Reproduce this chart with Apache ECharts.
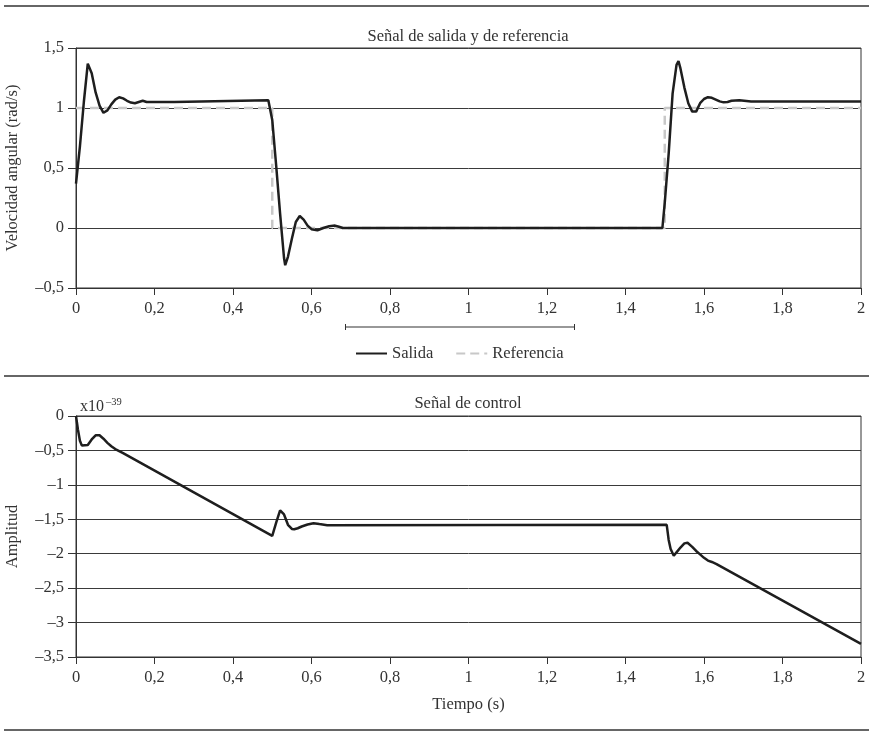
<!DOCTYPE html>
<html>
<head>
<meta charset="utf-8">
<script src="https://cdn.jsdelivr.net/npm/echarts@6/dist/echarts.min.js"></script>
<style>
  html, body { margin: 0; padding: 0; background: #fff; }
  #chart { width: 873px; height: 731px; }
</style>
</head>
<body>
<div id="chart"></div>
<script>
// Señal de salida (velocidad angular, rad/s)
let tiempoSalida = [0, 0.01, 0.02, 0.03, 0.04, 0.05, 0.06, 0.07, 0.08, 0.09, 0.10, 0.11, 0.12, 0.13, 0.14, 0.15, 0.16, 0.17, 0.18, 0.25, 0.49,
    0.50, 0.51, 0.52, 0.53, 0.533, 0.54, 0.55, 0.56, 0.57, 0.58, 0.59, 0.60, 0.615, 0.63, 0.645, 0.66, 0.67, 0.68,
    1.494, 1.50, 1.51, 1.52, 1.53, 1.535, 1.54, 1.55, 1.56, 1.57, 1.575, 1.58, 1.59, 1.60, 1.61, 1.62, 1.63, 1.64, 1.65, 1.66, 1.67, 1.69, 1.72, 2.0];
let salida = [0.37, 0.68, 1.05, 1.37, 1.29, 1.13, 1.02, 0.96, 0.98, 1.03, 1.07, 1.09, 1.08, 1.06, 1.045, 1.04, 1.05, 1.06, 1.05, 1.05, 1.065,
    0.90, 0.52, 0.12, -0.25, -0.31, -0.24, -0.09, 0.05, 0.10, 0.07, 0.02, -0.01, -0.02, 0.0, 0.015, 0.02, 0.01, 0,
    0, 0.21, 0.62, 1.12, 1.36, 1.39, 1.33, 1.17, 1.04, 0.97, 0.96, 0.97, 1.04, 1.075, 1.09, 1.085, 1.07, 1.055, 1.047, 1.05, 1.06, 1.065, 1.055, 1.055];

// Señal de referencia
let tiempoRef = [0, 0.5, 0.5, 1.5, 1.5, 2];
let referencia = [1, 1, 0, 0, 1, 1];

// Señal de control (x10^-39)
let tiempoControl = [0, 0.005, 0.01, 0.015, 0.02, 0.03, 0.04, 0.05, 0.055, 0.06, 0.07, 0.08, 0.09, 0.10, 0.11, 0.12,
    0.50, 0.51, 0.52, 0.522, 0.53, 0.54, 0.55, 0.556, 0.565, 0.575, 0.59, 0.605, 0.62, 0.64,
    1.505, 1.51, 1.515, 1.523, 1.53, 1.54, 1.55, 1.558, 1.57, 1.58, 1.59, 1.60, 1.61, 1.62, 1.632, 2.0];
let control = [0, -0.2, -0.36, -0.43, -0.445, -0.42, -0.34, -0.28, -0.27, -0.28, -0.33, -0.39, -0.44, -0.48, -0.51, -0.54,
    -1.74, -1.55, -1.37, -1.355, -1.43, -1.58, -1.64, -1.645, -1.63, -1.605, -1.575, -1.557, -1.57, -1.585,
    -1.58, -1.80, -1.93, -2.03, -1.98, -1.91, -1.85, -1.84, -1.90, -1.96, -2.01, -2.06, -2.10, -2.12, -2.15, -3.31];

let fuente = 'Liberation Serif';
let tam = 16.5;
let gris = '#333';

function par(ts, vs) {
    return ts.map((t, i) => [t, vs[i]]);
}
// coma decimal y raya para negativos
function fmt(v) {
    return String(Math.round(v * 100) / 100).replace('.', ',').replace('-', '\u2013');
}

function ejeX(idx, nombre) {
    return {
        type: 'value', gridIndex: idx, min: 0, max: 2, interval: 0.2,
        name: nombre, nameLocation: 'middle', nameGap: 39,
        nameTextStyle: { fontFamily: fuente, fontSize: tam, color: gris },
        axisLine: { show: true, onZero: false, lineStyle: { color: gris, width: 1 } },
        axisTick: { show: true, length: 7, lineStyle: { color: gris } },
        axisLabel: { formatter: fmt, fontFamily: fuente, fontSize: tam, color: gris, margin: 12 },
        splitLine: { show: false }
    };
}
function ejeY(idx, min, max, nombre) {
    return {
        type: 'value', gridIndex: idx, min: min, max: max, interval: 0.5,
        name: nombre, nameLocation: 'middle', nameGap: 55,
        nameTextStyle: { fontFamily: fuente, fontSize: tam, color: gris },
        axisLine: { show: true, onZero: false, lineStyle: { color: gris, width: 1 } },
        axisTick: { show: true, length: 8, lineStyle: { color: gris } },
        axisLabel: { formatter: fmt, fontFamily: fuente, fontSize: tam, color: gris, margin: 12 },
        splitLine: { show: true, lineStyle: { color: '#3a3a3a', width: 1 } }
    };
}

let regla = (y) => ({ type: 'line', shape: { x1: 4, y1: y, x2: 869, y2: y }, style: { stroke: gris, lineWidth: 1.5 } });

let option = {
    animation: false,
    backgroundColor: '#fff',
    title: [
        { text: 'Señal de salida y de referencia', left: 468, top: 28, textAlign: 'center', padding: 0,
          textStyle: { fontFamily: fuente, fontSize: tam, fontWeight: 'normal', color: gris } },
        { text: 'Señal de control', left: 468, top: 395, textAlign: 'center', padding: 0,
          textStyle: { fontFamily: fuente, fontSize: tam, fontWeight: 'normal', color: gris } }
    ],
    grid: [
        { left: 76, right: 12, top: 48, height: 240, show: true, borderColor: gris, borderWidth: 1, outerBoundsMode: 'none' },
        { left: 76, right: 12, top: 416, height: 241, show: true, borderColor: gris, borderWidth: 1, outerBoundsMode: 'none' }
    ],
    xAxis: [ejeX(0, ''), ejeX(1, 'Tiempo (s)')],
    yAxis: [ejeY(0, -0.5, 1.5, 'Velocidad angular (rad/s)'), ejeY(1, -3.5, 0, 'Amplitud')],
    legend: {
        data: ['Salida', 'Referencia'],
        left: 350, top: 340, itemWidth: 31, itemHeight: 12, itemGap: 22,
        itemStyle: { opacity: 0 },
        textStyle: { fontFamily: fuente, fontSize: tam, color: gris }
    },
    graphic: [
        regla(6), regla(376), regla(730),
        // barra sobre la leyenda
        { type: 'line', shape: { x1: 345, y1: 327, x2: 575, y2: 327 }, style: { stroke: gris, lineWidth: 1.2 } },
        { type: 'line', shape: { x1: 345.5, y1: 324, x2: 345.5, y2: 330 }, style: { stroke: gris, lineWidth: 1 } },
        { type: 'line', shape: { x1: 574.5, y1: 324, x2: 574.5, y2: 330 }, style: { stroke: gris, lineWidth: 1 } },
        // factor de escala
        { type: 'text', left: 80, top: 399, style: { text: 'x10', font: '16px "Liberation Serif"', fill: gris } },
        { type: 'text', left: 106, top: 397, style: { text: '\u201339', font: '10.5px "Liberation Serif"', fill: gris } }
    ],
    series: [
        {
            name: 'Referencia', type: 'line', xAxisIndex: 0, yAxisIndex: 0,
            data: par(tiempoRef, referencia), symbol: 'none',
            lineStyle: { color: '#c8c8c8', width: 2.5, type: [9, 5] },
            itemStyle: { color: '#c8c8c8' }
        },
        {
            name: 'Salida', type: 'line', xAxisIndex: 0, yAxisIndex: 0,
            data: par(tiempoSalida, salida), symbol: 'none',
            lineStyle: { color: '#1e1e1e', width: 2.5 },
            itemStyle: { color: '#1e1e1e' }
        },
        {
            name: 'Control', type: 'line', xAxisIndex: 1, yAxisIndex: 1,
            data: par(tiempoControl, control), symbol: 'none',
            lineStyle: { color: '#1e1e1e', width: 2.5 },
            itemStyle: { color: '#1e1e1e' }
        }
    ]
};

let chart = echarts.init(document.getElementById('chart'));
chart.setOption(option);
</script>
</body>
</html>
